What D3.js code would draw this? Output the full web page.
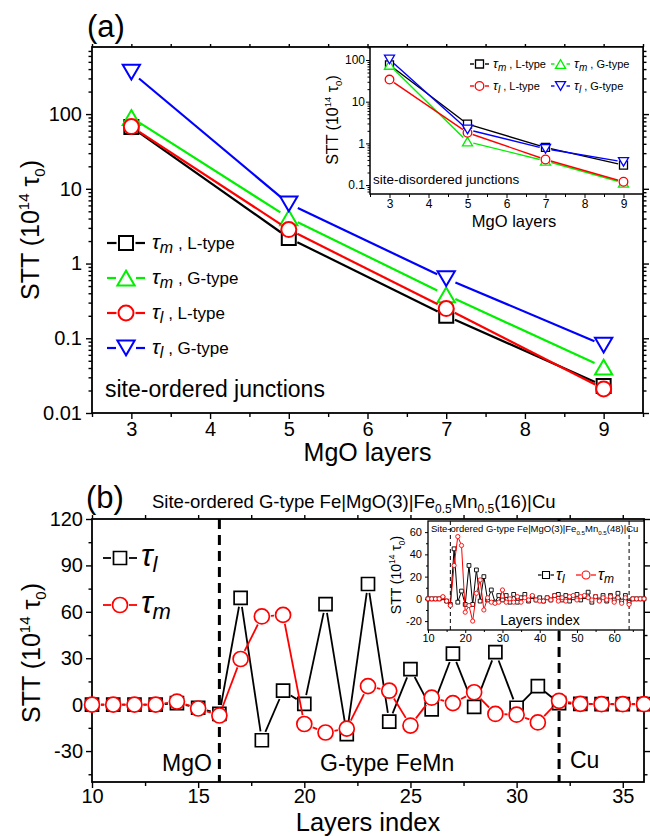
<!DOCTYPE html>
<html>
<head>
<meta charset="utf-8">
<script src="https://cdn.jsdelivr.net/npm/d3@7"></script>
<style>
  body { margin: 0; background: #fff; }
  svg { display: block; }
</style>
</head>
<body>
<svg id="fig" width="650" height="836"></svg>
<script>
// ---------- Panel (a): STT vs MgO thickness ----------
const mgoLayers = [3, 5, 7, 9];
// site-ordered junctions (main plot)
const ordTauM_L = [67, 2.2, 0.2, 0.023];
const ordTauM_G = [90, 4.1, 0.38, 0.041];
const ordTauL_L = [68, 2.85, 0.25, 0.021];
const ordTauL_G = [365, 6.3, 0.63, 0.081];
// site-disordered junctions (inset)
const disTauM_L = [76, 2.9, 0.80, 0.30];
const disTauM_G = [76, 1.1, 0.38, 0.113];
const disTauL_L = [34, 1.8, 0.41, 0.12];
const disTauL_G = [103, 2.15, 0.74, 0.36];

const logTicksMain = [0.01, 0.1, 1, 10, 100];
const logTicksInset = [0.1, 1, 10, 100];
const mgoTicks = [3, 4, 5, 6, 7, 8, 9];
const mgoMinor = [2.5, 3.5, 4.5, 5.5, 6.5, 7.5, 8.5, 9.5];

// ---------- Panel (b): layer-resolved STT ----------
const layers16 = [10, 11, 12, 13, 14, 15, 16, 17, 18, 19, 20, 21, 22, 23, 24, 25, 26, 27, 28, 29, 30, 31, 32, 33, 34, 35, 36];
const tauL16 = [0, 0, 0, 0, 1, -2, -6, 69, -23, 9, 0.5, 65, -19, 78, -11, 23, -3, 33, -1.5, 34, -2, 12, 1, 0.5, 0.3, 0.3, 0.3];
const tauM16 = [0, 0, 0, 0, 2, -2.5, -7, 29.5, 57, 58, -12.5, -18, -15.5, 12, 9, -13.5, 4.5, 1, 8, -6, -6.5, -11.5, 2.5, 0.5, 0.3, 0.3, 0.3];
const layerTicks16 = [10, 15, 20, 25, 30, 35];
const layerMinor16 = [12.5, 17.5, 22.5, 27.5, 32.5];
const sttTicks16 = [-30, 0, 30, 60, 90, 120];
const sttMinor16 = [-45, -15, 15, 45, 75, 105];
const interfaces16 = [16, 32];

const layers48 = [10, 11, 12, 13, 14, 15, 16, 17, 18, 19, 20, 21, 22, 23, 24, 25, 26, 27, 28, 29,
  30, 31, 32, 33, 34, 35, 36, 37, 38, 39, 40, 41, 42, 43, 44, 45, 46, 47, 48, 49,
  50, 51, 52, 53, 54, 55, 56, 57, 58, 59, 60, 61, 62, 63, 64, 65, 66, 67, 68];
const tauL48 = [0, 0, 0, 0, 1, -2, -5, 45, -3, 7, -5, 30, -5, 26, -2, 20, -1, 8, -3, 3,
  -1, 3, -3, 4, -3, 1, 4, -2, 2, -1, 1, -2, 1, -1, 3, 4, -1, 3, -2, 1,
  4, -1, 2, 6, -3, 2, -1, 3, -2, 3, -1, 5, -2, 3, -3, 0, 0, 0, 0];
const tauM48 = [0, 0, 0, 0, 2, -2, -6, 30, 56, 48, -12, -6, -20, 5, 17, -10, 1, -3, -4, -3,
  8, -3, 0, -3, 2, -3, 1, -1, 3, -1, -2, -2, 1, -1, 3, -2, 1, -2, 2, 3,
  -1, 2, 3, 1, -1, 2, -2, 1, -1, 2, -3, 1, -4, 1, -5, 0, 0, 0, 0];
const layerTicks48 = [10, 20, 30, 40, 50, 60];
const layerMinor48 = [15, 25, 35, 45, 55, 65];
const sttTicks48 = [-20, 0, 20, 40, 60];
const sttMinor48 = [-10, 10, 30, 50];
const interfaces48 = [16, 64];

// ---------- drawing helpers ----------
const FONT = '"Liberation Sans", Arial, Helvetica, sans-serif';
const COL = { black: '#000000', green: '#00f000', red: '#ff0000', blue: '#0000ff' };
const svg = d3.select('#fig').attr('font-family', FONT);
svg.append('rect').attr('width', 650).attr('height', 836).attr('fill', '#fff');

function markerPath(shape, r) {
  if (shape === 'square') return `M${-r},${-r}H${r}V${r}H${-r}Z`;
  if (shape === 'circle') return `M${r},0A${r},${r} 0 1,1 ${-r},0A${r},${r} 0 1,1 ${r},0Z`;
  const w = r * 1.2, h = r * 2.05;
  if (shape === 'up') return `M0,${-h / 2}L${w},${h / 2}L${-w},${h / 2}Z`;
  return `M0,${h / 2}L${w},${-h / 2}L${-w},${-h / 2}Z`; // down
}

// line segments stop short of each marker, as in the plotting program's default style
function gappedSegments(pts, gap) {
  const segs = [];
  for (let i = 1; i < pts.length; i++) {
    const [x0, y0] = pts[i - 1], [x1, y1] = pts[i];
    const L = Math.hypot(x1 - x0, y1 - y0);
    if (L <= 2 * gap) continue;
    const ux = (x1 - x0) / L, uy = (y1 - y0) / L;
    segs.push([x0 + ux * gap, y0 + uy * gap, x1 - ux * gap, y1 - uy * gap]);
  }
  return segs;
}

function drawSeries(g, xv, yv, sx, sy, o) {
  const pts = xv.map((d, i) => [sx(d), sy(yv[i])]);
  const s = g.append('g');
  s.selectAll('line').data(gappedSegments(pts, o.gap)).join('line')
    .attr('x1', d => d[0]).attr('y1', d => d[1]).attr('x2', d => d[2]).attr('y2', d => d[3])
    .attr('stroke', o.color).attr('stroke-width', o.lw);
  s.selectAll('path').data(pts).join('path')
    .attr('transform', d => `translate(${d[0]},${d[1]})`)
    .attr('d', markerPath(o.shape, o.r))
    .attr('fill', '#fff').attr('stroke', o.color).attr('stroke-width', o.sw);
}

function legendSymbol(g, x0, x1, xm, y, o) {
  g.append('line').attr('x1', x0).attr('x2', xm - o.gap).attr('y1', y).attr('y2', y)
    .attr('stroke', o.color).attr('stroke-width', o.lw);
  g.append('line').attr('x1', xm + o.gap).attr('x2', x1).attr('y1', y).attr('y2', y)
    .attr('stroke', o.color).attr('stroke-width', o.lw);
  g.append('path').attr('transform', `translate(${xm},${y})`).attr('d', markerPath(o.shape, o.r))
    .attr('fill', '#fff').attr('stroke', o.color).attr('stroke-width', o.sw);
}

// "τ_sub , label" text
function tauText(g, x, y, sub, rest, fs) {
  const t = g.append('text').attr('x', x).attr('y', y).attr('font-size', fs.main);
  t.append('tspan').attr('font-style', 'italic').attr('font-size', fs.tau).text('τ');
  t.append('tspan').attr('font-style', 'italic').attr('font-size', fs.sub).attr('dy', fs.subDy).text(sub);
  if (rest) t.append('tspan').attr('dy', -fs.subDy).text(rest);
  return t;
}

// rotated "STT (10^14 τ_0)"
function sttTitle(g, x, y, fs) {
  const t = g.append('text').attr('transform', `translate(${x},${y}) rotate(-90)`)
    .attr('text-anchor', 'middle').attr('font-size', fs);
  t.append('tspan').text('STT (10');
  t.append('tspan').attr('font-size', fs * 0.6).attr('dy', -fs * 0.42).text('14');
  t.append('tspan').attr('dy', fs * 0.42).text(' τ');
  t.append('tspan').attr('font-size', fs * 0.6).attr('dy', fs * 0.25).text('0');
  t.append('tspan').attr('dy', -fs * 0.25).text(')');
}

function frameAxes(g, sx, sy, box, c) {
  const style = sel => {
    sel.select('.domain').remove();
    sel.attr('font-family', FONT).attr('font-size', c.fs);
    sel.selectAll('line').attr('stroke', '#000').attr('stroke-width', c.tw);
    sel.selectAll('text').attr('fill', '#000');
  };
  const add = (axis, tr) => g.append('g').attr('transform', tr).call(axis).call(style);
  add(d3.axisBottom(sx).tickValues(c.xMajor).tickSize(c.major).tickPadding(c.xPad).tickFormat(c.xFmt || (d => d)), `translate(0,${box.b})`);
  add(d3.axisBottom(sx).tickValues(c.xMinor).tickSize(c.minorX).tickFormat(''), `translate(0,${box.b})`);
  add(d3.axisLeft(sy).tickValues(c.yMajor).tickSize(c.major).tickPadding(c.yPad).tickFormat(c.yFmt || (d => d)), `translate(${box.l},0)`);
  add(d3.axisLeft(sy).tickValues(c.yMinor).tickSize(c.minor).tickFormat(''), `translate(${box.l},0)`);
  if (c.mirror) {
    add(d3.axisTop(sx).tickValues(c.xMajor.concat(c.xMinor)).tickSize(c.topSize).tickFormat(''), `translate(0,${box.t})`);
    add(d3.axisRight(sy).tickValues(c.yMajor).tickSize(c.major).tickFormat(''), `translate(${box.r},0)`);
    add(d3.axisRight(sy).tickValues(c.yMinor).tickSize(c.minor).tickFormat(''), `translate(${box.r},0)`);
  }
  g.append('rect').attr('x', box.l).attr('y', box.t).attr('width', box.r - box.l).attr('height', box.b - box.t)
    .attr('fill', 'none').attr('stroke', '#000').attr('stroke-width', c.fw);
}

function logMinor(domain) {
  const out = [];
  for (let e = -3; e <= 3; e++) for (let m = 2; m <= 9; m++) {
    const v = m * Math.pow(10, e);
    if (v > domain[0] && v < domain[1]) out.push(v);
  }
  return out;
}
const logFmt = d => String(+d.toPrecision(3));

// ================= Panel (a) =================
const A = { l: 92, r: 643, t: 47, b: 413 };
const ax = d3.scaleLinear().domain([2.5, 9.5]).range([A.l, A.r]);
const ayDom = [0.01, 790];
const ay = d3.scaleLog().domain(ayDom).range([A.b, A.t]);
const gA = svg.append('g');
frameAxes(gA, ax, ay, A, {
  xMajor: mgoTicks, xMinor: mgoMinor, yMajor: logTicksMain, yMinor: logMinor(ayDom),
  major: 6, minor: 3.5, minorX: 4, topSize: 3, tw: 1.4, fw: 1.8, fs: 20, xPad: 2.5, yPad: 4, yFmt: logFmt, mirror: true
});

const styA = {
  mL: { color: COL.black, shape: 'square', r: 7, gap: 9.5, lw: 2.2, sw: 2 },
  mG: { color: COL.green, shape: 'up', r: 7.2, gap: 10, lw: 2.2, sw: 2 },
  lL: { color: COL.red, shape: 'circle', r: 7.5, gap: 9.5, lw: 2.2, sw: 2 },
  lG: { color: COL.blue, shape: 'down', r: 7.2, gap: 10, lw: 2.2, sw: 2 }
};
drawSeries(gA, mgoLayers, ordTauM_L, ax, ay, styA.mL);
drawSeries(gA, mgoLayers, ordTauM_G, ax, ay, styA.mG);
drawSeries(gA, mgoLayers, ordTauL_L, ax, ay, styA.lL);
drawSeries(gA, mgoLayers, ordTauL_G, ax, ay, styA.lG);

const legA = [
  { s: styA.mL, sub: 'm', rest: ' , L-type' },
  { s: styA.mG, sub: 'm', rest: ' , G-type' },
  { s: styA.lL, sub: 'l', rest: ' , L-type' },
  { s: styA.lG, sub: 'l', rest: ' , G-type' }
];
legA.forEach((d, i) => {
  const y = 243 + i * 35;
  legendSymbol(gA, 107, 145, 126, y, d.s);
  tauText(gA, 152, y + 6, d.sub, d.rest, { main: 17, tau: 21, sub: 16, subDy: 4 });
});
gA.append('text').attr('x', 105).attr('y', 397).attr('font-size', 23).text('site-ordered junctions');
gA.append('text').attr('x', 87).attr('y', 37).attr('font-size', 31).text('(a)');
gA.append('text').attr('x', (A.l + A.r) / 2).attr('y', 461).attr('text-anchor', 'middle').attr('font-size', 25).text('MgO layers');
sttTitle(gA, 39, 230, 25);

// ----- inset (a): site-disordered junctions -----
const I = { l: 370, r: 643, t: 47, b: 194 };
const ix = d3.scaleLinear().domain([2.5, 9.5]).range([I.l, I.r]);
const iyDom = [0.061, 205];
const iy = d3.scaleLog().domain(iyDom).range([I.b, I.t]);
const gI = svg.append('g');
gI.append('rect').attr('x', I.l).attr('y', I.t).attr('width', I.r - I.l).attr('height', I.b - I.t).attr('fill', '#fff');
frameAxes(gI, ix, iy, I, {
  xMajor: mgoTicks, xMinor: mgoMinor, yMajor: logTicksInset, yMinor: logMinor(iyDom),
  major: 4, minor: 2.5, minorX: 3, tw: 1, fw: 1.5, fs: 12, xPad: 1.5, yPad: 1, yFmt: logFmt, mirror: false
});
const styI = {
  mL: { color: COL.black, shape: 'square', r: 4, gap: 5.5, lw: 1.4, sw: 1.3 },
  mG: { color: COL.green, shape: 'up', r: 4.2, gap: 6, lw: 1.4, sw: 1.3 },
  lL: { color: COL.red, shape: 'circle', r: 4.3, gap: 5.5, lw: 1.4, sw: 1.3 },
  lG: { color: COL.blue, shape: 'down', r: 4.2, gap: 6, lw: 1.4, sw: 1.3 }
};
drawSeries(gI, mgoLayers, disTauM_L, ix, iy, styI.mL);
drawSeries(gI, mgoLayers, disTauM_G, ix, iy, styI.mG);
drawSeries(gI, mgoLayers, disTauL_L, ix, iy, styI.lL);
drawSeries(gI, mgoLayers, disTauL_G, ix, iy, styI.lG);
const legI = [
  { s: styI.mL, sub: 'm', rest: ' , L-type', x: 470, y: 64 },
  { s: styI.mG, sub: 'm', rest: ' , G-type', x: 551, y: 64 },
  { s: styI.lL, sub: 'l', rest: ' , L-type', x: 470, y: 86 },
  { s: styI.lG, sub: 'l', rest: ' , G-type', x: 551, y: 86 }
];
legI.forEach(d => {
  legendSymbol(gI, d.x, d.x + 19, d.x + 9.5, d.y, d.s);
  tauText(gI, d.x + 23, d.y + 4, d.sub, d.rest, { main: 11, tau: 13, sub: 10, subDy: 2.5 });
});
gI.append('text').attr('x', 373).attr('y', 184).attr('font-size', 13.5).text('site-disordered junctions');
gI.append('text').attr('x', 514).attr('y', 227).attr('text-anchor', 'middle').attr('font-size', 16.5).text('MgO layers');
sttTitle(gI, 338, 120, 16);

// ================= Panel (b) =================
const B = { l: 92, r: 644, t: 519, b: 782 };
const bx = d3.scaleLinear().domain([10, 36]).range([B.l, B.r]);
const by = d3.scaleLinear().domain([-50, 120]).range([B.b, B.t]);
const gB = svg.append('g');
gB.selectAll('.iface').data(interfaces16).join('line')
  .attr('x1', d => bx(d)).attr('x2', d => bx(d)).attr('y1', B.t).attr('y2', B.b)
  .attr('stroke', '#000').attr('stroke-width', 3).attr('stroke-dasharray', '10,6');
frameAxes(gB, bx, by, B, {
  xMajor: layerTicks16, xMinor: layerMinor16, yMajor: sttTicks16, yMinor: sttMinor16,
  major: 6, minor: 3.5, minorX: 4, topSize: 4, tw: 1.4, fw: 1.8, fs: 20, xPad: 1, yPad: 3, mirror: true
});
const styB = {
  l: { color: COL.black, shape: 'square', r: 6.5, gap: 9, lw: 1.8, sw: 1.7 },
  m: { color: COL.red, shape: 'circle', r: 7.5, gap: 9, lw: 1.8, sw: 1.7 }
};
drawSeries(gB, layers16, tauL16, bx, by, styB.l);
drawSeries(gB, layers16, tauM16, bx, by, styB.m);
legendSymbol(gB, 103, 137, 120, 558, styB.l);
tauText(gB, 141, 566, 'l', null, { main: 30, tau: 31, sub: 22, subDy: 6 });
legendSymbol(gB, 103, 137, 120, 605, styB.m);
tauText(gB, 141, 613, 'm', null, { main: 30, tau: 31, sub: 22, subDy: 6 });
gB.append('text').attr('x', 162).attr('y', 771).attr('font-size', 23).text('MgO');
gB.append('text').attr('x', 320).attr('y', 771).attr('font-size', 23).text('G-type FeMn');
gB.append('text').attr('x', 570).attr('y', 768).attr('font-size', 23).text('Cu');
gB.append('text').attr('x', 86).attr('y', 508).attr('font-size', 31).text('(b)');
const tb = gB.append('text').attr('x', 152).attr('y', 508).attr('font-size', 18.5);
tb.append('tspan').text('Site-ordered G-type Fe|MgO(3)|Fe');
tb.append('tspan').attr('font-size', 12).attr('dy', 5).text('0.5');
tb.append('tspan').attr('dy', -5).text('Mn');
tb.append('tspan').attr('font-size', 12).attr('dy', 5).text('0.5');
tb.append('tspan').attr('dy', -5).text('(16)|Cu');
gB.append('text').attr('x', (B.l + B.r) / 2).attr('y', 831).attr('text-anchor', 'middle').attr('font-size', 25.5).text('Layers index');
sttTitle(gB, 40, 653, 25);

// ----- inset (b): thicker FeMn layer -----
const J = { l: 428, r: 644, t: 521, b: 630 };
const jx = d3.scaleLinear().domain([10, 68]).range([J.l, J.r]);
const jy = d3.scaleLinear().domain([-28, 70]).range([J.b, J.t]);
const gJ = svg.append('g');
gJ.append('rect').attr('x', J.l).attr('y', J.t).attr('width', J.r - J.l).attr('height', J.b - J.t).attr('fill', '#fff');
gJ.selectAll('.iface').data(interfaces48).join('line')
  .attr('x1', d => jx(d)).attr('x2', d => jx(d)).attr('y1', J.t).attr('y2', J.b)
  .attr('stroke', '#000').attr('stroke-width', 1).attr('stroke-dasharray', '4,3');
frameAxes(gJ, jx, jy, J, {
  xMajor: layerTicks48, xMinor: layerMinor48, yMajor: sttTicks48, yMinor: sttMinor48,
  major: 3, minor: 2, minorX: 2, tw: 1, fw: 1.3, fs: 11, xPad: 1, yPad: 3, mirror: false
});
const styJ = {
  l: { color: COL.black, shape: 'square', r: 1.9, gap: 2.2, lw: 1, sw: 0.9 },
  m: { color: COL.red, shape: 'circle', r: 2.1, gap: 2.2, lw: 1, sw: 0.9 }
};
drawSeries(gJ, layers48, tauL48, jx, jy, styJ.l);
drawSeries(gJ, layers48, tauM48, jx, jy, styJ.m);
const tj = gJ.append('text').attr('x', 431).attr('y', 532).attr('font-size', 9.5);
tj.append('tspan').text('Site-ordered G-type Fe|MgO(3)|Fe');
tj.append('tspan').attr('font-size', 6.2).attr('dy', 2.5).text('0.5');
tj.append('tspan').attr('dy', -2.5).text('Mn');
tj.append('tspan').attr('font-size', 6.2).attr('dy', 2.5).text('0.5');
tj.append('tspan').attr('dy', -2.5).text('(48)|Cu');
const styJleg = {
  l: { color: COL.black, shape: 'square', r: 3.5, gap: 4.5, lw: 1.2, sw: 1.1 },
  m: { color: COL.red, shape: 'circle', r: 4, gap: 5, lw: 1.2, sw: 1.1 }
};
legendSymbol(gJ, 538, 554, 546, 575, styJleg.l);
tauText(gJ, 556, 580, 'l', null, { main: 16, tau: 16, sub: 12, subDy: 3 });
legendSymbol(gJ, 576, 596, 586, 575, styJleg.m);
tauText(gJ, 598, 580, 'm', null, { main: 16, tau: 16, sub: 12, subDy: 3 });
gJ.append('text').attr('x', 540).attr('y', 625).attr('text-anchor', 'middle').attr('font-size', 14).text('Layers index');
sttTitle(gJ, 401, 575, 14);
</script>
</body>
</html>
